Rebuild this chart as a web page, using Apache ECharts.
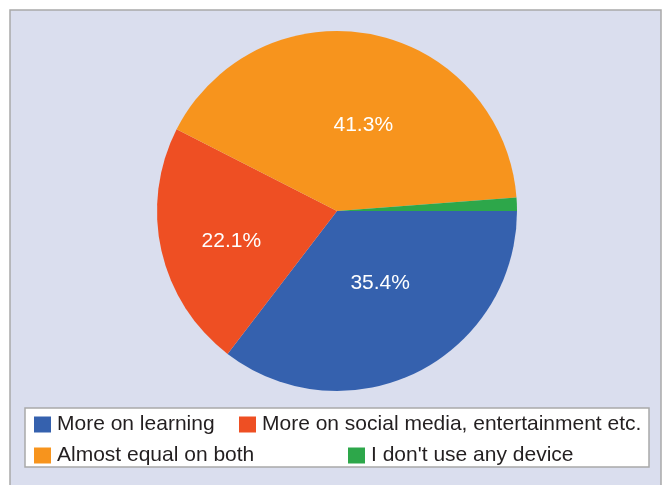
<!DOCTYPE html>
<html>
<head>
<meta charset="utf-8">
<title>Device use</title>
<script src="https://cdn.jsdelivr.net/npm/echarts@6/dist/echarts.min.js"></script>
<style>
  html, body { margin: 0; padding: 0; background: #ffffff; }
  #chart { width: 665px; height: 485px; }
</style>
</head>
<body>
<div id="chart"></div>
<script>
// categories and shares (%)
const categories = [
  "More on learning",
  "More on social media, entertainment etc.",
  "Almost equal on both",
  "I don't use any device",
];
const shares = [35.4, 22.1, 41.3, 1.2];
const colors = ["#3561ae", "#ee4f23", "#f7941d", "#2da74a"];

const font = "Liberation Sans, Arial, sans-serif";

// nudges so the labels sit where the original put them
const labelNudge = [[2, -11], [-15, 10], [8, 5], [0, 0]];

const chart = echarts.init(document.getElementById("chart"));

const pieData = categories.map((name, i) => ({
  name: name,
  value: shares[i],
  itemStyle: { color: colors[i] },
  label: { show: i < 3, offset: labelNudge[i] },
}));

// one legend per item, laid out in two rows like the original
const legendPlaces = [
  { left: 34, top: 414 },
  { left: 239, top: 414 },
  { left: 34, top: 445 },
  { left: 348, top: 445 },
];
const legends = categories.map((name, i) => ({
  data: [name],
  left: legendPlaces[i].left,
  top: legendPlaces[i].top,
  padding: 0,
  itemWidth: 17,
  itemHeight: 16,
  itemGap: 0,
  icon: "rect",
  selectedMode: false,
  textStyle: { fontFamily: font, fontSize: 21, color: "#231f20", padding: [0, 0, 0, 1] },
}));

const option = {
  animation: false,
  color: colors,
  graphic: [
    {
      type: "rect",
      z: -10,
      shape: { x: 10, y: 10, width: 651, height: 490 },
      style: { fill: "#dadeee", stroke: "#a9a9a9", lineWidth: 1.5 },
    },
    {
      type: "rect",
      z: -9,
      shape: { x: 25, y: 408, width: 624, height: 59 },
      style: { fill: "#ffffff", stroke: "#a9a9a9", lineWidth: 1.5 },
    },
  ],
  legend: legends,
  series: [
    {
      type: "pie",
      center: [337, 211],
      radius: [0, 180],
      startAngle: 0,
      clockwise: true,
      avoidLabelOverlap: false,
      itemStyle: { borderWidth: 0 },
      label: {
        position: "inside",
        formatter: (p) => p.value.toFixed(1) + "%",
        color: "#ffffff",
        fontFamily: font,
        fontSize: 21,
      },
      labelLine: { show: false },
      emphasis: { disabled: true },
      data: pieData,
    },
  ],
};

chart.setOption(option);
</script>
</body>
</html>
